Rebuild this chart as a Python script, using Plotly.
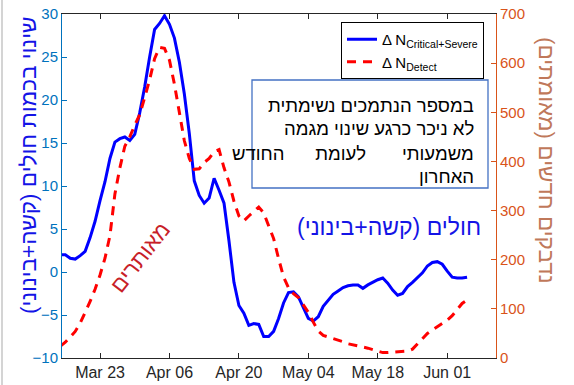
import plotly.graph_objects as go
import pandas as pd

# Daily values, 2020-03-15 .. 2020-06-05
start_date = "2020-03-15"
critical_severe_change = [
    2.0, 2.0, 1.6, 1.5, 1.9, 2.4, 4.0, 5.9, 8.3, 10.5,
    13.2, 15.1, 15.5, 15.7, 15.3, 16.0, 18.5, 21.5, 25.0, 28.2,
    28.9, 29.8, 28.8, 27.2, 24.4, 20.7, 16.1, 10.6, 8.9, 8.0,
    8.6, 10.9, 9.5, 8.0, 3.6, -1.2, -3.9, -4.8, -6.2, -6.0,
    -6.1, -7.5, -7.5, -6.9, -5.4, -3.6, -2.4, -2.3, -2.9, -4.2,
    -5.4, -5.7, -5.2, -4.0, -3.3, -2.6, -2.2, -1.8, -1.6, -1.5,
    -1.5, -1.9, -1.5, -1.2, -0.9, -0.7, -1.3, -2.1, -2.7, -2.5,
    -1.7, -1.2, -0.6, -0.1, 0.7, 1.1, 1.2, 0.9, 0.1, -0.6,
    -0.7, -0.7, -0.6,
]
detected_new = [
    24, 32, 43, 54, 71, 92, 115, 140, 169, 203,
    249, 334, 387, 431, 450, 474, 495, 530, 566, 609,
    632, 630, 606, 557, 502, 442, 406, 384, 385, 398,
    406, 420, 424, 387, 358, 319, 289, 279, 289, 298,
    307, 295, 268, 243, 202, 165, 143, 131, 123, 108,
    93, 73, 55, 46, 43, 40, 37, 33, 29, 27,
    24, 22, 20, 17, 14, 11, 11, 12, 12, 13,
    14, 18, 29, 39, 50, 57, 64, 71, 77, 86,
    99, 111, 118,
]
tick_dates = ["2020-03-23", "2020-04-06", "2020-04-20", "2020-05-04", "2020-05-18", "2020-06-01"]
tick_labels = ["Mar 23", "Apr 06", "Apr 20", "May 04", "May 18", "Jun 01"]

series_names = ["Δ N<sub>Critical+Severe</sub>", "Δ N<sub>Detect</sub>"]
left_title = "שינוי בכמות חולים (קשה+בינוני)"
right_title = "נדבקים חדשים (מאומתים)"
NB = "\u00a0"
box_lines = ["במספר הנתמכים נשימתית", "לא ניכר כרגע שינוי מגמה",
             "משמעותי" + NB * 7 + "לעומת" + NB * 6 + "החודש", "האחרון"]
blue_note = "חולים (קשה+בינוני)"
red_note = "מאותרים"

dates = pd.date_range(start_date, periods=len(critical_severe_change), freq="D")

RLM = "\u200f"
FONT = "Liberation Sans, Arial, DejaVu Sans, sans-serif"

fig = go.Figure()
fig.add_trace(go.Scatter(x=dates, y=critical_severe_change, mode="lines",
                         name=series_names[0], line=dict(color="#0000ff", width=3),
                         yaxis="y"))
fig.add_trace(go.Scatter(x=dates, y=detected_new, mode="lines",
                         name=series_names[1], line=dict(color="#ff0000", width=3, dash="9px,7px"),
                         yaxis="y2"))

W, H = 574, 385
L, R, T, B = 62, 78, 14, 27
pw, ph = W - L - R, H - T - B


def px(x):
    return (x - L) / pw


def py(y):
    return (H - B - y) / ph


fig.update_layout(
    width=W, height=H, autosize=False,
    margin=dict(l=L, r=R, t=T, b=B, pad=0, autoexpand=False),
    paper_bgcolor="white", plot_bgcolor="white",
    font=dict(family=FONT, size=15, color="#262626"),
    showlegend=True,
    legend=dict(x=px(341), y=py(22), xanchor="left", yanchor="top",
                bordercolor="black", borderwidth=1, bgcolor="white",
                font=dict(size=15, color="black"), tracegroupgap=0),
    xaxis=dict(type="date", range=["2020-03-15 08:00", "2020-06-10 20:00"],
               tickvals=tick_dates, ticktext=tick_labels, automargin=False,
               ticks="inside", ticklen=5, tickcolor="#262626",
               showline=True, linecolor="#262626", linewidth=1, mirror="ticks",
               showgrid=False, zeroline=False,
               tickfont=dict(size=16, color="#262626")),
    yaxis=dict(range=[-10, 30], dtick=5, ticks="inside", ticklen=5, automargin=False,
               tickcolor="#0072BD", showline=True, linecolor="#0072BD", linewidth=1,
               showgrid=False, zeroline=False,
               tickfont=dict(size=15, color="#0072BD")),
    yaxis2=dict(range=[0, 700], dtick=100, ticks="inside", ticklen=5, overlaying="y", side="right",
                automargin=False,
                tickcolor="#D95319", showline=True, linecolor="#D95319", linewidth=1,
                showgrid=False, zeroline=False,
                tickfont=dict(size=15, color="#D95319")),
)

annotations = [
    dict(text=left_title + RLM, x=px(28), y=py(166), xref="paper", yref="paper",
         textangle=-90, showarrow=False, xanchor="center", yanchor="middle",
         font=dict(size=22.5, color="#1414e6")),
    dict(text=right_title + RLM, x=px(547), y=py(160), xref="paper", yref="paper",
         textangle=90, showarrow=False, xanchor="center", yanchor="middle",
         font=dict(size=22.5, color="#c0785a")),
    dict(text=RLM + blue_note + RLM, x=px(483), y=py(227), xref="paper", yref="paper",
         showarrow=False, xanchor="right", yanchor="middle",
         font=dict(size=23, color="#1414e6")),
    dict(text=red_note, x=px(140), y=py(257), xref="paper", yref="paper",
         textangle=-52, showarrow=False, xanchor="center", yanchor="middle",
         font=dict(size=22, color="#c81e28")),
]
line_ys = [105, 128, 153, 177]
for txt, yy in zip(box_lines, line_ys):
    annotations.append(dict(text=txt, x=px(476), y=py(yy), xref="paper", yref="paper",
                            showarrow=False, xanchor="right", yanchor="middle", align="right",
                            font=dict(size=18.5, color="black")))
fig.update_layout(annotations=annotations)

fig.add_shape(type="rect", xref="paper", yref="paper",
              x0=px(252), x1=px(488), y0=py(188), y1=py(80),
              line=dict(color="#4472C4", width=1.3), fillcolor="white", layer="above")
fig.add_shape(type="line", xref="paper", yref="paper",
              x0=px(2), x1=px(2), y0=py(0), y1=py(385),
              line=dict(color="#d4d4d4", width=2))

fig.write_html("out.html", config={"displayModeBar": False},
               post_script="document.body.style.margin='0';document.body.style.padding='0';")
